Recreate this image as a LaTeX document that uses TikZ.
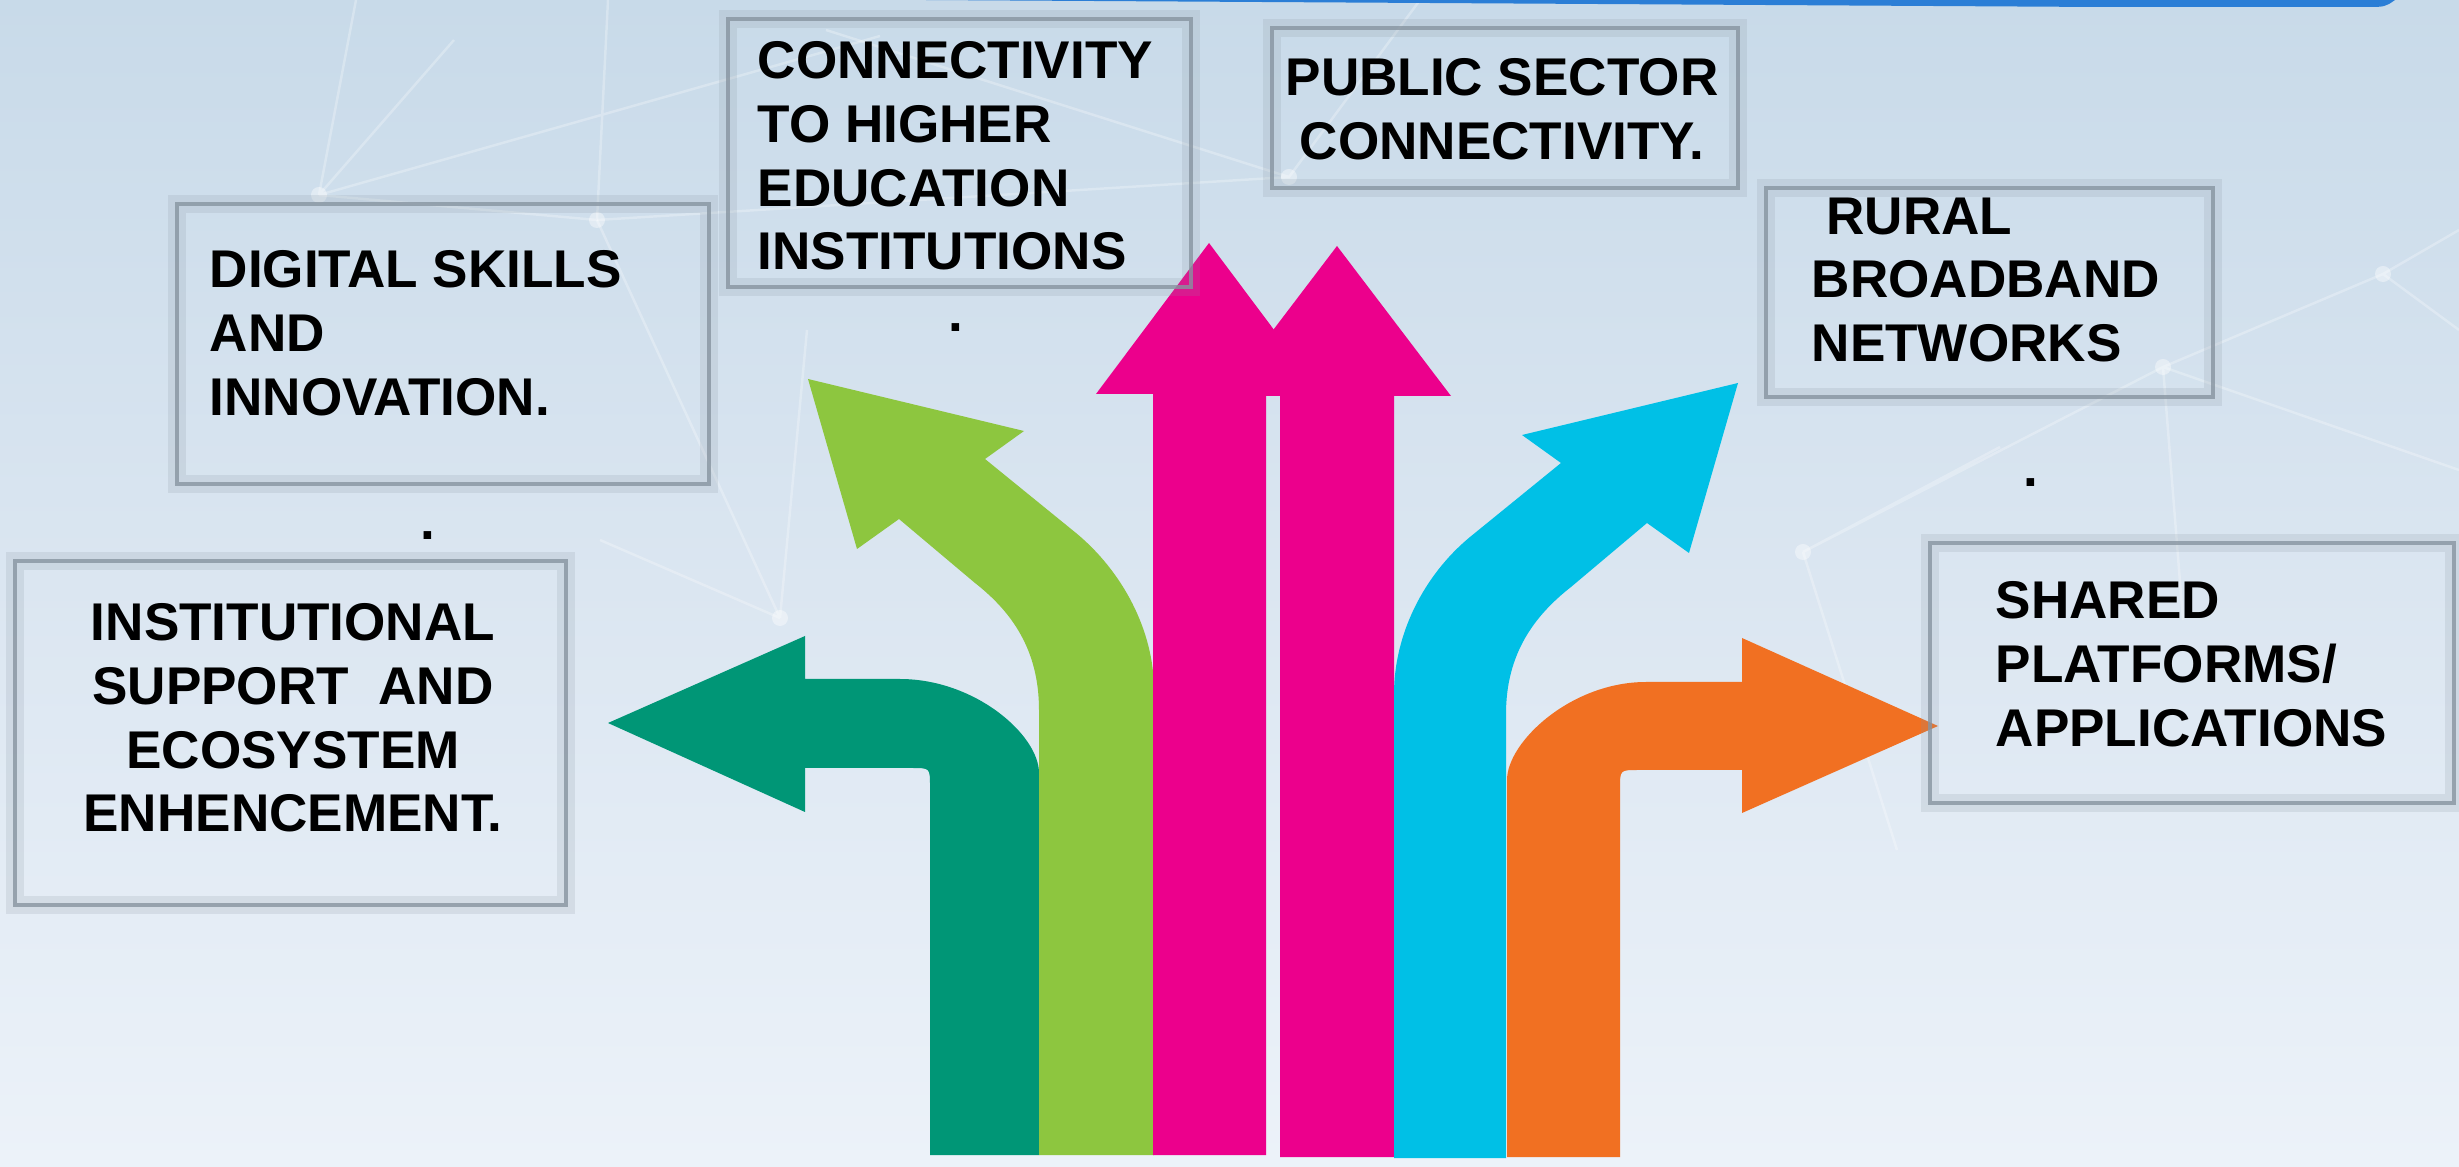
\documentclass[tikz,border=0pt]{standalone}
\usepackage{fontspec}
\setmainfont{Liberation Sans}
\usetikzlibrary{fit}
\definecolor{bgtop}{RGB}{200,218,233}
\definecolor{bgmid}{RGB}{219,230,241}
\definecolor{bgbot}{RGB}{236,242,249}
\definecolor{barblue}{RGB}{43,126,214}
\definecolor{boxgrey}{RGB}{135,148,160}
\definecolor{arrteal}{RGB}{0,150,118}
\definecolor{arrlime}{RGB}{141,198,63}
\definecolor{arrpink}{RGB}{236,0,140}
\definecolor{arrcyan}{RGB}{0,192,230}
\definecolor{arrorange}{RGB}{241,112,34}
\begin{document}
\begin{tikzpicture}[x=0.01cm,y=-0.01cm,
    panel/.style={draw=boxgrey,line width=1.4pt,draw opacity=.8,inner sep=0pt,
      preaction={draw=boxgrey,line width=5pt,draw opacity=.18}},
    label/.style={font=\fontsize{15.1pt}{18.1pt}\selectfont\bfseries,inner sep=0pt},
    net/.style={draw=white,line width=.7pt,opacity=.28},
    glow/.style={circle,fill=white,opacity=.4,inner sep=0pt,minimum size=.16cm}]
    \useasboundingbox (0,0) rectangle (2459,1167);
    \fill[top color=bgtop,bottom color=bgbot,middle color=bgmid] (0,0) rectangle (2459,1167);
    % faint network in the background
    \coordinate (N1) at (319,195);
    \coordinate (N2) at (597,220);
    \coordinate (N3) at (1289,177);
    \coordinate (N4) at (1803,552);
    \coordinate (N5) at (2163,367);
    \coordinate (N6) at (780,618);
    \coordinate (N7) at (2383,274);
    \path[net] (N1) -- (356,0) (N1) -- (880,36) (N1) -- (454,40) (N1) -- (N2) -- (608,0);
    \path[net] (826,30) -- (N3) -- (1420,0) (N3) -- (N2);
    \path[net] (N4) -- (N5) -- (N7) -- (2459,230) (N5) -- (2459,470) (N4) -- (1897,850)
      (N4) -- (2000,447) (N5) -- (2183,620) (N7) -- (2459,330);
    \path[net] (N6) -- (807,330) (N6) -- (600,540) (N6) -- (N2);
    \foreach \n in {N1,N2,N3,N4,N5,N6,N7}
      \node[glow] at (\n) {};
    \fill[barblue] (925,0) -- (2100,7) -- (2365,7) .. controls (2385,7) .. (2395,0) -- cycle;
    % arrows
    \fill[arrteal] (930,1155) -- (930,786) .. controls (930,768) .. (912,768) -- (805,768)
      -- (805,812) -- (608,723) -- (805,636) -- (805,679) -- (900,679)
      .. controls (975,679) and (1039,735) .. (1039,773) -- (1039,1155) -- cycle;
    \fill[arrlime] (1039,1155) -- (1039,710) .. controls (1039,650) and (1012,612) .. (975,583)
      -- (899,519) -- (857,549) -- (808,379) -- (1024,431) -- (985,459) -- (1076,533)
      .. controls (1122,571) and (1154,630) .. (1154,690) -- (1154,1155) -- cycle;
    \fill[arrpink] (1153,1155) -- (1153,394) -- (1096,394) -- (1209,243) -- (1322,394)
      -- (1266,394) -- (1266,1155) -- cycle;
    \fill[arrpink] (1280,1157) -- (1280,396) -- (1223,396) -- (1337,246) -- (1451,396)
      -- (1394,396) -- (1394,1157) -- cycle;
    \fill[arrcyan] (1506,1158) -- (1506,714) .. controls (1506,654) and (1534,616) .. (1571,587)
      -- (1647,523) -- (1689,553) -- (1738,383) -- (1522,435) -- (1561,463) -- (1470,537)
      .. controls (1424,575) and (1394,634) .. (1394,694) -- (1394,1158) -- cycle;
    \fill[arrorange] (1620,1157) -- (1620,788) .. controls (1620,770) .. (1638,770) -- (1742,770)
      -- (1742,813) -- (1938,726) -- (1742,638) -- (1742,682) -- (1646,682)
      .. controls (1571,682) and (1507,742) .. (1507,780) -- (1507,1157) -- cycle;
    % boxes
    \node[panel,fit={(177,204) (709,484)}] (B1) {};
    \node[panel,fit={(15,561) (566,905)}] (B2) {};
    \node[panel,fit={(728,19) (1191,287)}] (B3) {};
    \node[panel,fit={(1272,28) (1738,188)}] (B4) {};
    \node[panel,fit={(1766,188) (2213,397)}] (B5) {};
    \node[panel,fit={(1930,543) (2454,803)}] (B6) {};
    % texts
    \node[label,anchor=north west,align=left] (T1) at (209,250) {DIGITAL SKILLS\\AND\\INNOVATION.};
    \node[label,anchor=north,align=center] (T2) at (293,603) {INSTITUTIONAL\\SUPPORT\ \ AND\\ECOSYSTEM\\ENHENCEMENT.};
    \node[label,anchor=north west,align=left] (T3) at (757,41) {CONNECTIVITY\\TO HIGHER\\EDUCATION\\INSTITUTIONS};
    \node[label,anchor=north,align=center] (T4) at (1502,58) {PUBLIC SECTOR\\CONNECTIVITY.};
    \node[label,anchor=north west,align=left] (T5) at (1811,197) {\hspace*{.28em}RURAL\\BROADBAND\\NETWORKS};
    \node[label,anchor=north west,align=left] (T6) at (1995,581) {SHARED\\PLATFORMS/\\APPLICATIONS};
    \node[label,anchor=base] (D1) at (428,540) {.};
    \node[label,anchor=base] (D2) at (956,332) {.};
    \node[label,anchor=base] (D3) at (2031,487) {.};
  \end{tikzpicture}
\end{document}
